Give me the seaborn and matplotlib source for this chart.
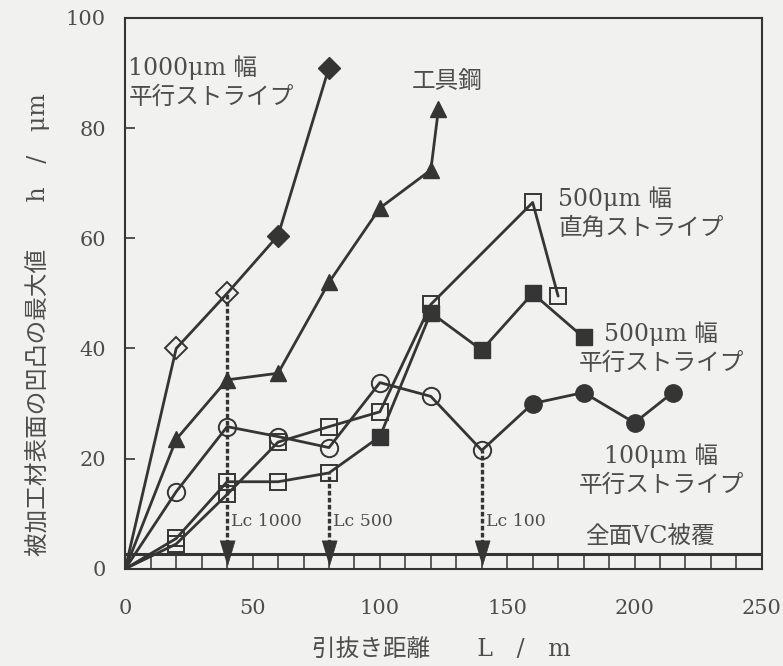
import matplotlib
matplotlib.use("Agg")
import matplotlib.pyplot as plt
import seaborn as sns

# pull-out distance L [m] and max surface roughness h [um]
dist_1000 = [0, 20, 40, 60, 80]
h_1000 = [0, 40, 50, 60.5, 91]

dist_tool = [0, 20, 40, 60, 80, 100, 120, 123]
h_tool = [0, 23.5, 34.3, 35.5, 52, 65.5, 72.4, 83.5]

dist_500p = [0, 20, 40, 60, 80, 100, 120, 140, 160, 180]
h_500p = [0, 5.5, 15.8, 15.8, 17.4, 24, 46.5, 39.7, 50, 42]

dist_500r = [0, 20, 40, 60, 80, 100, 120, 160, 170]
h_500r = [0, 4.5, 13.5, 23, 25.8, 28.5, 48, 66.5, 49.5]

dist_100 = [0, 20, 40, 60, 80, 100, 120, 140, 160, 180, 200, 215]
h_100 = [0, 14, 25.8, 24, 22, 33.8, 31.3, 21.5, 30, 32, 26.5, 32]

# full VC coating: flat strip just above zero
vc_dist = [0, 10, 20, 30, 40, 50, 60, 70, 80, 90, 100, 110, 120, 130,
           140, 150, 160, 170, 180, 190, 200, 210, 220, 230, 240, 250]
vc_h = 2.7

# critical lengths Lc (markers before Lc are open, after are filled)
lc_dist = [40, 80, 140]
lc_h = [50, 17.4, 21.5]
lc_labels = ["Lc 1000", "Lc 500", "Lc 100"]

x_ticks = [0, 50, 100, 150, 200, 250]
y_ticks = [0, 20, 40, 60, 80, 100]

INK = "#353535"
TXT = "#4d4d4d"
BG = "#f1f1ef"

sns.set_theme(style="ticks")
plt.rcParams["font.family"] = ["DejaVu Serif", "Noto Sans CJK JP", "DejaVu Sans"]

fig, ax = plt.subplots(figsize=(7.83, 6.66), dpi=100)
fig.patch.set_facecolor(BG)
ax.set_facecolor(BG)
fig.subplots_adjust(left=0.160, right=0.973, bottom=0.146, top=0.973)


def draw_series(dist, h, marker, ms, lc=None):
    sns.lineplot(x=dist, y=h, color=INK, lw=2.0, sort=False, estimator=None, ax=ax)
    pts = list(zip(dist[1:], h[1:]))
    open_pts = [p for p in pts if lc is None or p[0] <= lc]
    fill_pts = [p for p in pts if lc is not None and p[0] > lc]
    if open_pts:
        sns.lineplot(x=[p[0] for p in open_pts], y=[p[1] for p in open_pts],
                     ls="none", marker=marker, markersize=ms, markerfacecolor="none",
                     markeredgecolor=INK, markeredgewidth=1.4, estimator=None, ax=ax)
    if fill_pts:
        sns.lineplot(x=[p[0] for p in fill_pts], y=[p[1] for p in fill_pts],
                     ls="none", marker=marker, markersize=ms, markerfacecolor=INK,
                     markeredgecolor=INK, markeredgewidth=1.0, estimator=None, ax=ax)


draw_series(dist_1000, h_1000, "D", 11, lc=40)
draw_series(dist_tool, h_tool, "^", 12, lc=0)
draw_series(dist_500p, h_500p, "s", 11, lc=80)
draw_series(dist_500r, h_500r, "s", 11)
draw_series(dist_100, h_100, "o", 12.5, lc=140)

# VC strip
sns.lineplot(x=vc_dist, y=[vc_h] * len(vc_dist), color=INK, lw=2.2, ax=ax)
ax.vlines(vc_dist, 0, vc_h, color=INK, lw=1.1)

# Lc arrows
arrow = [(-0.6, 1), (0.6, 1), (0, -1)]
ax.vlines(lc_dist, 4.5, lc_h, color=INK, lw=2.4, linestyles=(0, (1.4, 0.7)))
sns.scatterplot(x=lc_dist, y=[2.8] * len(lc_dist), marker=arrow, s=330,
                color=INK, edgecolor=INK, linewidth=0.5, ax=ax, zorder=5)
for xd, lab in zip(lc_dist, lc_labels):
    ax.text(xd + 1.5, 8.5, lab, fontsize=12.5, color=TXT, va="center", ha="left")

tkw = dict(fontsize=17, color=TXT, linespacing=1.3)
ax.text(1.2, 88.4, "1000μm 幅\n平行ストライプ", ha="left", va="center", **tkw)
ax.text(112.6, 88.5, "工具鋼", ha="left", va="center", **tkw)
ax.text(170, 64.6, "500μm 幅\n直角ストライプ", ha="left", va="center", **tkw)
ax.text(210.4, 40.1, "500μm 幅\n平行ストライプ", ha="center", va="center", **tkw)
ax.text(210.4, 17.9, "100μm 幅\n平行ストライプ", ha="center", va="center", **tkw)
ax.text(206, 5.6, "全面VC被覆", ha="center", va="center", **tkw)

ax.set_xlim(0, 250)
ax.set_ylim(0, 100)
ax.set_xticks(x_ticks)
ax.set_yticks(y_ticks)
ax.tick_params(axis="both", direction="in", labelsize=15, labelcolor=TXT, color=INK)
ax.tick_params(axis="x", length=0, pad=22)
ax.tick_params(axis="y", length=7, width=1.2, pad=14)
for sp in ax.spines.values():
    sp.set_visible(True)
    sp.set_color(INK)
    sp.set_linewidth(1.5)

ax.set_xlabel("引抜き距離　　L　/　m", fontsize=17, color=TXT)
ax.set_ylabel("被加工材表面の凹凸の最大値　　h　/　μm", fontsize=17, color=TXT)
ax.xaxis.set_label_coords(0.497, -0.125)
ax.yaxis.set_label_coords(-0.118, 0.443)

fig.savefig("out.png", dpi=100, facecolor=BG)
